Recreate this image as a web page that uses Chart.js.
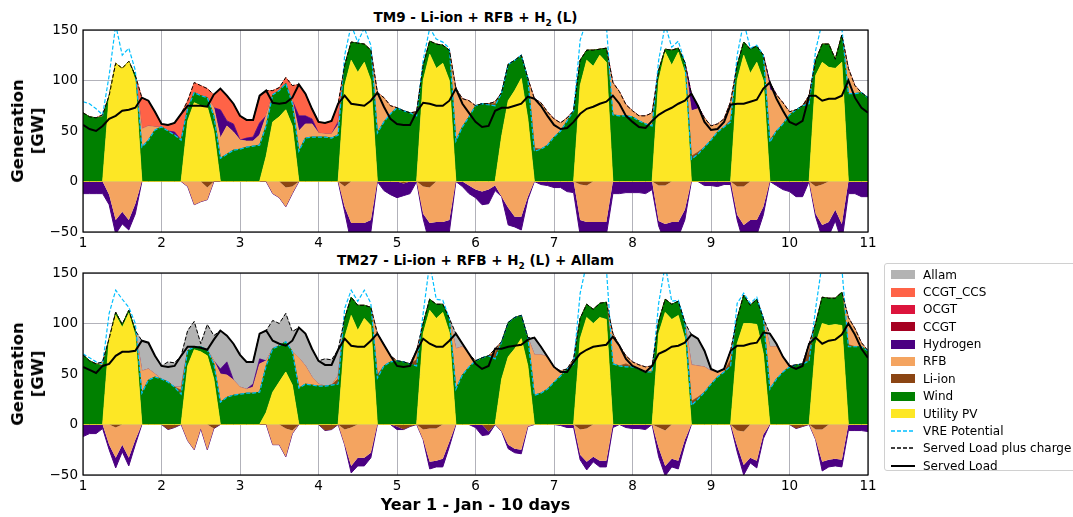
<!DOCTYPE html>
<html>
<head>
<meta charset="utf-8">
<script src="https://cdn.jsdelivr.net/npm/chart.js@4.4.0/dist/chart.umd.min.js"></script>
<style>
  body { margin: 0; background: #fff; font-family: 'DejaVu Sans', sans-serif; }
  #fig { position: relative; width: 1073px; height: 517px; overflow: hidden; }
  canvas { position: absolute; left: 0; }
  .title { position: absolute; left: 83px; width: 785px; text-align: center; font-weight: bold; font-size: 13.5px; line-height: 16px; }
  .xlabel { position: absolute; left: 83px; width: 785px; text-align: center; font-weight: bold; font-size: 16px; line-height: 20px; top: 495px; }
  .ylabel { position: absolute; left: 28px; font-weight: bold; font-size: 16.5px; line-height: 20px; text-align: center;
            white-space: nowrap; transform: translate(-50%, -50%) rotate(-90deg); }
  #legend { position: absolute; left: 884px; top: 263px; width: 192px; height: 208px; border: 1px solid #d0d0d0;
            border-radius: 3px; box-sizing: border-box; padding-top: 2px; }
  .row { height: 17.36px; display: flex; align-items: center; font-size: 12px; white-space: nowrap; }
  .sw { width: 24px; height: 9px; margin-left: 6px; margin-right: 8px; flex: none; }
  svg.sw { height: 10px; }
</style>
</head>
<body>
<div id="fig">
  <div class="title" style="top:9px">TM9 - Li-ion + RFB + H<sub style="font-size:9px">2</sub> (L)</div>
  <canvas id="tm9" width="880" height="250" style="top:0"></canvas>
  <div class="ylabel" style="top:131px">Generation<br>[GW]</div>

  <div class="title" style="top:252px">TM27 - Li-ion + RFB + H<sub style="font-size:9px">2</sub> (L) + Allam</div>
  <canvas id="tm27" width="880" height="257" style="top:243px"></canvas>
  <div class="ylabel" style="top:374px">Generation<br>[GW]</div>
  <div class="xlabel">Year 1 - Jan - 10 days</div>

  <div id="legend"></div>
</div>
<script>
// two-hourly samples, day 1.0 .. 11.0
const days = Array.from({ length: 121 }, (_, i) => 1 + i / 12);

// ---- TM9: Li-ion + RFB + H2 (L) ----
const tm9Pv = [
  0,0,0,0,85,117,112,119,100,0,0,0,
  0,0,0,0,60,78,75,74,50,0,0,0,
  0,0,0,0,25,59,64,71,55,0,0,0,
  0,0,0,0,95,120,108,118,100,0,0,0,
  0,0,0,0,100,126,112,117,100,0,0,0,
  0,0,0,0,45,80,90,102,62,0,0,0,
  0,0,0,0,95,120,114,125,118,0,0,0,
  0,0,0,0,100,128,115,128,108,0,0,0,
  0,0,0,0,100,125,107,118,100,0,0,0,
  0,0,0,0,105,118,113,112,118,0,0,0,
  0];
const tm9Wind = [
  68,64,63,64,0,0,0,0,5,34,41,51,
  54,50,46,41,12,10,10,9,15,23,27,31,
  32,34,35,36,30,27,26,26,22,30,43,44,
  44,44,43,46,20,18,29,18,30,48,59,67,
  73,70,68,65,15,13,24,18,30,40,54,64,
  75,77,76,75,43,36,30,23,40,30,32,36,
  44,50,60,70,25,10,16,6,14,66,65,65,
  64,60,57,55,10,3,15,4,10,22,27,34,
  41,49,54,59,15,13,24,16,25,39,50,57,
  66,71,75,77,15,18,23,9,27,87,87,88,
  83];
const tm9Li = [
  0,0,0,0,0,0,0,0,0,0,0,0,
  0,0,0,0,0,0,0,0,0,0,0,0,
  0,0,0,0,0,0,0,0,0,0,0,0,
  0,0,0,0,0,0,0,0,0,0,0,0,
  0,0,0,2,0,0,0,0,0,0,0,0,
  0,0,1,2,0,0,0,0,0,3,0,0,
  0,0,0,0,0,0,0,0,0,0,0,0,
  0,0,0,0,0,0,0,0,0,3,2,0,
  0,0,0,2,0,0,0,0,0,2,0,0,
  0,0,0,8,0,0,0,0,0,0,0,0,
  0];
const tm9Rfb = [
  0,0,0,2,0,0,0,0,0,18,14,3,
  0,0,0,0,0,0,0,0,8,20,28,18,
  9,6,5,10,10,0,0,0,3,20,14,13,
  4,3,4,10,0,0,0,0,0,40,24,8,
  0,0,0,2,0,0,0,0,0,52,28,16,
  0,0,0,2,0,0,0,0,0,49,46,33,
  18,8,3,0,0,0,0,0,0,32,24,11,
  6,5,8,13,0,0,0,0,0,45,43,29,
  14,8,8,18,0,0,0,0,0,50,36,21,
  3,0,0,0,0,0,0,0,0,25,8,0,
  0];
const tm9H2 = [
  0,0,0,0,0,0,0,0,0,0,0,0,
  0,0,3,0,0,0,0,0,0,28,5,8,
  0,3,4,12,0,0,0,0,0,15,8,5,
  0,0,0,3,0,0,0,0,0,0,0,0,
  0,0,0,0,0,0,0,0,0,0,0,0,
  0,0,0,0,0,0,0,0,0,0,0,0,
  0,0,0,0,0,0,0,0,0,0,0,0,
  0,0,0,0,0,0,0,0,0,17,3,0,
  0,0,0,0,0,0,0,0,0,7,0,0,
  0,0,0,0,0,0,0,0,0,0,0,0,
  0];
const tm9Ccs = [
  0,0,0,0,0,0,0,0,0,31,25,15,
  3,6,9,26,8,10,10,9,13,21,25,20,
  24,18,17,27,25,4,3,6,15,31,22,10,
  11,11,13,18,0,0,0,0,0,0,0,0,
  0,0,0,0,0,0,0,0,0,0,0,0,
  0,0,0,0,0,0,0,0,0,0,0,0,
  0,0,0,0,0,0,0,0,0,0,0,0,
  0,0,0,0,0,0,0,0,0,0,0,0,
  0,0,0,0,0,0,0,0,0,0,0,0,
  0,0,0,0,0,0,0,0,0,0,0,0,
  0];
const tm9LiCharge = [
  0,0,0,0,0,0,0,0,0,0,0,0,
  0,0,0,0,0,0,0,-6,0,0,0,0,
  0,0,0,0,0,0,0,-6,-5,0,0,0,
  0,0,0,0,-5,0,0,0,0,0,0,0,
  0,-2,0,0,-5,-6,0,0,0,0,0,0,
  0,0,0,0,0,0,0,0,0,0,0,0,
  0,0,0,0,-3,-4,0,0,0,0,0,0,
  0,0,0,0,-4,-4,0,0,0,0,0,0,
  0,0,0,0,-5,-5,0,0,0,0,0,0,
  0,0,0,0,-5,-3,0,0,0,0,0,0,
  0];
const tm9RfbCharge = [
  0,0,0,0,-13,-38,-30,-38,-22,0,0,0,
  0,0,0,0,-5,-23,-20,-12,0,0,0,0,
  0,0,0,0,0,-12,-16,-19,-7,0,0,0,
  0,0,0,0,-20,-41,-41,-41,-38,0,0,0,
  0,0,0,0,-27,-35,-40,-40,-38,0,0,-4,
  -8,-10,-8,-4,-15,-26,-35,-35,-15,0,0,0,
  0,0,0,0,-35,-36,-40,-40,-40,0,0,0,
  0,0,0,0,-35,-38,-40,-40,-28,0,0,0,
  0,0,0,0,-28,-38,-38,-38,-25,0,0,0,
  0,0,0,0,-27,-40,-40,-28,-42,0,0,0,
  0];
const tm9H2Charge = [
  -12,-12,-12,-12,-10,-14,-12,-10,-10,0,0,0,
  0,0,0,0,0,0,0,0,0,0,0,0,
  0,0,0,0,0,0,0,0,0,0,0,0,
  0,0,0,0,-5,-20,-20,-20,-12,0,-9,-13,
  -16,-12,-12,0,-5,-21,-21,-20,-12,0,-5,-8,
  -8,-13,-14,-5,0,-17,-10,-13,-3,0,-3,-4,
  -6,-6,-10,-11,-15,-18,-16,-14,-13,-12,-12,-11,
  -11,-11,-12,-8,-5,-19,-17,-15,-10,0,0,-4,
  -4,-5,-3,-3,-5,-18,-14,-15,-8,0,-4,-8,
  -10,-15,-15,0,-3,-13,-14,-11,-18,-12,-12,-15,
  -15];
const tm9Vre = [
  79,77,72,66,105,155,125,132,110,34,41,51,
  54,50,46,41,72,88,85,83,65,23,27,31,
  32,34,35,36,55,86,90,97,77,30,43,44,
  44,44,43,46,125,155,138,152,135,48,59,67,
  73,70,68,65,120,152,141,138,132,40,54,64,
  75,77,76,75,88,116,120,125,102,30,32,36,
  44,50,60,70,140,160,158,160,155,66,65,65,
  64,60,57,55,120,155,133,139,118,22,27,34,
  41,49,54,59,125,158,132,135,125,39,50,57,
  66,71,75,77,130,158,160,160,152,87,87,88,
  83];
const tm9LoadCharge = [
  68,64,63,66,85,117,112,119,105,83,80,69,
  57,56,58,67,80,98,95,92,86,92,85,77,
  65,61,61,85,90,90,93,103,95,96,87,72,
  59,58,60,77,115,138,137,136,130,88,83,75,
  73,70,68,69,115,139,136,135,130,92,82,80,
  75,77,77,79,88,116,120,125,102,82,78,69,
  62,58,63,70,120,130,130,131,132,98,89,76,
  70,65,65,68,110,131,130,132,118,87,75,63,
  55,57,62,79,115,138,131,134,125,98,86,78,
  69,71,75,85,120,136,136,121,145,112,95,88,
  83];
const tm9Load = [
  56,52,50,55,62,65,70,71,73,83,80,69,
  57,56,58,67,75,75,75,74,86,92,85,77,
  65,61,61,85,90,78,77,78,83,96,87,72,
  59,58,60,77,85,77,76,75,80,88,74,62,
  57,56,56,69,78,77,75,75,80,92,77,68,
  59,54,55,70,73,73,75,77,84,82,75,65,
  56,52,53,59,67,72,74,77,79,85,77,65,
  59,54,53,60,66,70,73,77,80,87,75,59,
  51,52,59,76,77,77,79,81,92,98,82,70,
  59,56,60,85,85,80,82,82,85,100,83,73,
  68];

// ---- TM27: Li-ion + RFB + H2 (L) + Allam ----
const tm27Pv = [
  0,0,0,0,85,108,96,110,88,0,0,0,
  0,0,0,0,58,74,72,68,45,0,0,0,
  0,0,0,0,12,32,42,52,39,0,0,0,
  0,0,0,0,86,108,93,105,98,0,0,0,
  0,0,0,0,90,113,105,111,91,0,0,0,
  0,0,0,0,45,67,75,85,58,0,0,0,
  0,0,0,0,85,106,100,106,104,0,0,0,
  0,0,0,0,90,111,104,108,85,0,0,0,
  0,0,0,0,80,100,100,99,70,0,0,0,
  0,0,0,0,80,100,98,99,98,0,0,0,
  0];
const tm27Wind = [
  69,63,60,58,0,3,3,3,5,31,44,47,
  45,42,37,30,15,3,5,6,15,22,27,29,
  30,31,31,32,46,43,36,30,33,36,40,39,
  38,38,39,40,19,18,25,13,18,46,58,62,
  63,62,60,58,10,11,14,8,14,35,49,57,
  63,66,68,65,37,34,31,23,28,29,31,35,
  42,48,55,60,20,13,14,14,17,60,58,57,
  57,55,52,52,12,13,15,14,16,19,25,32,
  40,47,52,58,25,28,18,25,35,35,45,52,
  57,59,60,63,20,26,27,26,33,77,77,77,
  73];
const tm27Li = [
  0,0,0,0,0,0,0,0,0,0,0,0,
  0,0,0,4,0,0,0,0,0,0,0,0,
  0,0,0,0,0,0,0,0,0,0,0,0,
  0,0,0,5,0,0,0,0,0,3,0,0,
  0,0,0,6,0,0,0,0,0,0,0,0,
  0,0,0,6,0,0,0,0,0,0,0,0,
  0,0,0,0,0,0,0,0,0,0,0,3,
  0,0,0,0,0,0,0,0,0,4,2,0,
  0,0,0,6,0,0,0,0,0,0,0,0,
  0,0,0,10,0,0,0,0,0,2,0,0,
  0];
const tm27Rfb = [
  0,0,0,4,0,0,0,0,0,22,11,3,
  0,0,0,3,0,0,0,0,3,28,22,15,
  7,4,6,28,5,0,0,0,0,30,18,8,
  2,0,0,3,0,0,0,0,0,41,21,6,
  0,0,0,9,0,0,0,0,0,40,28,13,
  0,0,0,4,0,0,0,0,0,40,38,32,
  15,5,0,5,0,0,0,0,0,30,20,8,
  5,4,5,6,0,0,0,0,0,36,31,25,
  13,5,3,9,0,0,0,0,0,42,32,15,
  1,0,0,7,0,0,0,0,0,27,18,4,
  0];
const tm27H2 = [
  0,0,0,0,0,0,0,0,0,0,0,0,
  0,0,0,0,0,0,0,0,0,5,13,0,
  0,0,3,5,0,0,0,0,0,0,0,0,
  0,0,0,0,0,0,0,0,0,0,0,0,
  0,0,0,0,0,0,0,0,0,0,0,0,
  0,0,0,0,0,0,0,0,0,0,0,0,
  0,0,0,0,0,0,0,0,0,0,0,0,
  0,0,0,0,0,0,0,0,0,0,0,0,
  0,0,0,0,0,0,0,0,0,0,0,0,
  0,0,0,0,0,0,0,0,0,0,0,0,
  0];
const tm27Allam = [
  0,0,0,0,0,0,0,0,0,30,26,18,
  13,20,24,31,20,25,3,25,25,38,26,36,
  32,27,22,25,30,28,22,28,20,30,32,28,
  23,27,25,26,0,0,0,0,0,0,0,0,
  0,0,0,0,0,0,0,0,0,15,3,0,
  0,0,0,0,0,0,0,0,0,17,8,0,
  0,0,0,0,0,0,0,0,0,0,0,0,
  0,0,0,0,0,0,0,0,0,30,27,16,
  2,0,0,0,0,0,0,0,0,13,3,0,
  0,0,0,0,0,0,0,0,0,0,0,0,
  0];
const tm27LiCharge = [
  0,0,0,0,0,-3,0,0,0,0,0,0,
  0,-5,-3,0,0,0,0,0,-4,0,0,0,
  0,0,0,0,0,0,0,-4,-6,0,0,0,
  0,-6,-5,0,-5,-3,0,0,0,0,0,0,
  -2,-5,-2,0,-5,-4,-4,0,0,0,0,0,
  0,0,-7,0,0,0,0,0,0,0,0,0,
  0,0,0,0,-5,-4,0,0,0,0,0,0,
  0,0,0,0,-3,-6,0,0,0,0,0,0,
  0,0,0,0,-6,-7,0,0,0,0,0,0,
  0,-4,-2,0,-5,-5,0,0,0,0,0,0,
  0];
const tm27RfbCharge = [
  0,0,0,0,-20,-30,-20,-33,-15,0,0,0,
  0,0,0,0,-16,-25,-4,-25,0,0,0,0,
  0,0,0,0,0,-20,-20,-28,-3,0,0,0,
  0,0,0,0,-15,-38,-33,-33,-28,0,0,0,
  0,0,0,0,-10,-33,-32,-34,-17,0,0,0,
  0,0,0,0,-7,-20,-24,-25,-2,0,0,0,
  0,0,0,0,-25,-33,-32,-36,-36,0,0,0,
  0,0,0,0,-20,-35,-34,-36,-15,0,0,0,
  0,0,0,0,-15,-33,-33,-36,-10,0,0,0,
  0,0,0,0,-10,-32,-35,-34,-35,0,0,0,
  0];
const tm27H2Charge = [
  -12,-9,-9,-4,-5,-10,-7,-8,-5,0,0,0,
  0,0,0,0,0,0,0,0,0,0,0,0,
  0,0,0,0,0,0,0,0,0,0,0,0,
  0,0,0,0,0,-7,-8,-8,-5,0,0,0,
  -3,0,0,0,0,-7,-6,-8,-5,0,0,0,
  -3,-11,-3,0,0,-4,-4,-4,0,0,0,0,
  0,-1,-3,-3,-5,-8,-5,-6,-6,-3,0,-3,
  -4,-4,-5,0,-9,-10,-8,-8,-5,0,0,0,
  0,0,0,0,-6,-10,-5,-7,-4,0,0,0,
  0,0,0,0,0,-9,-7,-7,-7,-6,-6,-6,
  -7];
const tm27Vre = [
  70,66,62,60,110,133,124,116,100,31,44,47,
  45,42,37,30,73,77,77,74,60,22,27,29,
  30,31,31,32,58,75,78,82,72,36,40,39,
  38,38,39,40,115,133,122,133,120,46,58,62,
  63,62,60,58,110,160,124,123,105,35,49,57,
  63,66,68,65,82,101,106,108,86,29,31,35,
  42,48,55,60,130,160,160,160,155,60,58,57,
  57,55,52,52,120,158,122,123,101,19,25,32,
  40,47,52,58,120,130,120,126,105,35,45,52,
  57,59,60,63,115,160,160,160,155,77,77,77,
  73];
const tm27LoadCharge = [
  69,63,60,62,85,111,99,113,93,83,81,68,
  58,62,61,68,93,102,80,99,88,93,88,80,
  69,62,62,90,93,103,100,110,92,96,90,75,
  63,65,64,74,105,126,118,118,116,90,79,68,
  63,62,60,73,100,124,119,119,105,90,80,70,
  63,66,68,75,82,101,106,108,86,86,77,67,
  57,53,55,65,105,119,114,120,121,90,78,68,
  62,59,57,58,102,124,119,122,101,89,85,73,
  55,52,55,73,105,128,118,124,105,90,80,67,
  58,59,60,80,100,126,125,125,131,106,95,81,
  73];
const tm27Load = [
  57,54,51,58,60,68,72,72,73,83,81,68,
  58,57,58,68,77,77,76,74,84,93,88,80,
  69,62,62,90,93,83,80,78,83,96,90,75,
  63,59,59,74,85,78,77,77,83,90,79,68,
  58,57,58,73,85,80,77,77,83,90,80,70,
  60,55,58,75,75,77,78,79,84,86,77,67,
  57,52,52,62,70,74,77,78,79,87,78,65,
  58,55,52,58,70,73,77,78,81,89,85,73,
  55,52,55,73,78,78,80,81,91,90,80,67,
  58,55,58,80,86,80,83,84,89,100,89,75,
  66];

const colors = {
  allam: '#b3b3b3', ccs: '#ff6347', ocgt: '#dc143c', ccgt: '#a50021',
  h2: '#4b0082', rfb: '#f4a460', li: '#8b4513', wind: '#008000', pv: '#fde725',
  vre: '#00bfff'
};

const points = (values) => values.map((v, i) => ({ x: days[i], y: v }));

function area(label, values, color, fill, stack, width = 0.8) {
  return {
    label, data: points(values), fill, stack, order: 1,
    backgroundColor: color, borderColor: color, borderWidth: width,
    pointRadius: 0, tension: 0
  };
}

function line(label, values, color, width, dash, order) {
  return {
    label, data: points(values), fill: false, stack: label, order,
    borderColor: color, borderWidth: width, borderDash: dash,
    pointRadius: 0, tension: 0
  };
}

// black box around the plot area
const frame = {
  id: 'frame',
  afterDraw(chart) {
    const { ctx, chartArea: a } = chart;
    ctx.save();
    ctx.strokeStyle = '#000';
    ctx.lineWidth = 1.2;
    ctx.strokeRect(a.left, a.top, a.right - a.left, a.bottom - a.top);
    ctx.restore();
  }
};

const tickFont = { family: 'DejaVu Sans', size: 13.5 };
const gridStyle = { color: 'rgba(115,115,130,0.55)', lineWidth: 1, drawTicks: false };

function makePanel(id, s, xAxisHeight) {
  const datasets = [
    area('Utility PV', s.pv, colors.pv, 'origin', 'pos'),
    area('Wind', s.wind, colors.wind, '-1', 'pos'),
    area('Li-ion', s.li, colors.li, '-1', 'pos'),
    area('RFB', s.rfb, colors.rfb, '-1', 'pos'),
    area('Hydrogen', s.h2, colors.h2, '-1', 'pos'),
    area(s.topLabel, s.top, s.topColor, '-1', 'pos'),
    area('Li-ion charge', s.liC, colors.li, 'origin', 'neg', 0),
    area('RFB charge', s.rfbC, colors.rfb, '-1', 'neg', 0),
    area('Hydrogen charge', s.h2C, colors.h2, '-1', 'neg', 1),
    line('VRE Potential', s.vre, colors.vre, 1.2, [4, 2], 0.3),
    line('Served Load plus charge', s.slc, '#000', 1, [4, 2], 0.2),
    line('Served Load', s.sl, '#000', 2, [], 0.1)
  ];
  return new Chart(document.getElementById(id), {
    type: 'line',
    data: { datasets },
    plugins: [frame],
    options: {
      responsive: false,
      animation: false,
      devicePixelRatio: 1,
      layout: { padding: { top: 30, right: 12, left: 0, bottom: 0 } },
      plugins: { legend: { display: false }, tooltip: { enabled: false } },
      scales: {
        x: {
          type: 'linear', min: 1, max: 11, z: 1,
          ticks: { stepSize: 1, color: '#000', font: tickFont, padding: 3, maxRotation: 0, autoSkip: false },
          grid: gridStyle,
          border: { display: false },
          afterFit: (scale) => { scale.height = xAxisHeight; }
        },
        y: {
          stacked: true, min: -50, max: 150, z: 1,
          ticks: {
            stepSize: 50, color: '#000', font: tickFont, padding: 5,
            callback: (v) => (v < 0 ? '\u2212' + (-v) : '' + v)
          },
          grid: gridStyle,
          border: { display: false },
          afterFit: (scale) => { scale.width = 83; }
        }
      }
    }
  });
}

makePanel('tm9', {
  pv: tm9Pv, wind: tm9Wind, li: tm9Li, rfb: tm9Rfb, h2: tm9H2,
  top: tm9Ccs, topLabel: 'CCGT_CCS', topColor: colors.ccs,
  liC: tm9LiCharge, rfbC: tm9RfbCharge, h2C: tm9H2Charge,
  vre: tm9Vre, slc: tm9LoadCharge, sl: tm9Load
}, 18);

makePanel('tm27', {
  pv: tm27Pv, wind: tm27Wind, li: tm27Li, rfb: tm27Rfb, h2: tm27H2,
  top: tm27Allam, topLabel: 'Allam', topColor: colors.allam,
  liC: tm27LiCharge, rfbC: tm27RfbCharge, h2C: tm27H2Charge,
  vre: tm27Vre, slc: tm27LoadCharge, sl: tm27Load
}, 25);

// shared legend beside the lower panel
const legendItems = [
  ['Allam', 'patch', colors.allam], ['CCGT_CCS', 'patch', colors.ccs], ['OCGT', 'patch', colors.ocgt],
  ['CCGT', 'patch', colors.ccgt], ['Hydrogen', 'patch', colors.h2], ['RFB', 'patch', colors.rfb],
  ['Li-ion', 'patch', colors.li], ['Wind', 'patch', colors.wind], ['Utility PV', 'patch', colors.pv],
  ['VRE Potential', 'dash', colors.vre], ['Served Load plus charge', 'dash', '#000'], ['Served Load', 'solid', '#000']
];
const legend = document.getElementById('legend');
for (const [label, kind, color] of legendItems) {
  const row = document.createElement('div');
  row.className = 'row';
  let swatch;
  if (kind === 'patch') {
    swatch = `<span class="sw" style="background:${color}"></span>`;
  } else {
    const dash = kind === 'dash' ? 'stroke-dasharray="4 2"' : '';
    const w = kind === 'solid' ? 2 : 1.4;
    swatch = `<svg class="sw" viewBox="0 0 24 10"><line x1="0" y1="5" x2="24" y2="5" stroke="${color}" stroke-width="${w}" ${dash}/></svg>`;
  }
  row.innerHTML = swatch + `<span>${label}</span>`;
  legend.appendChild(row);
}
</script>
</body>
</html>
